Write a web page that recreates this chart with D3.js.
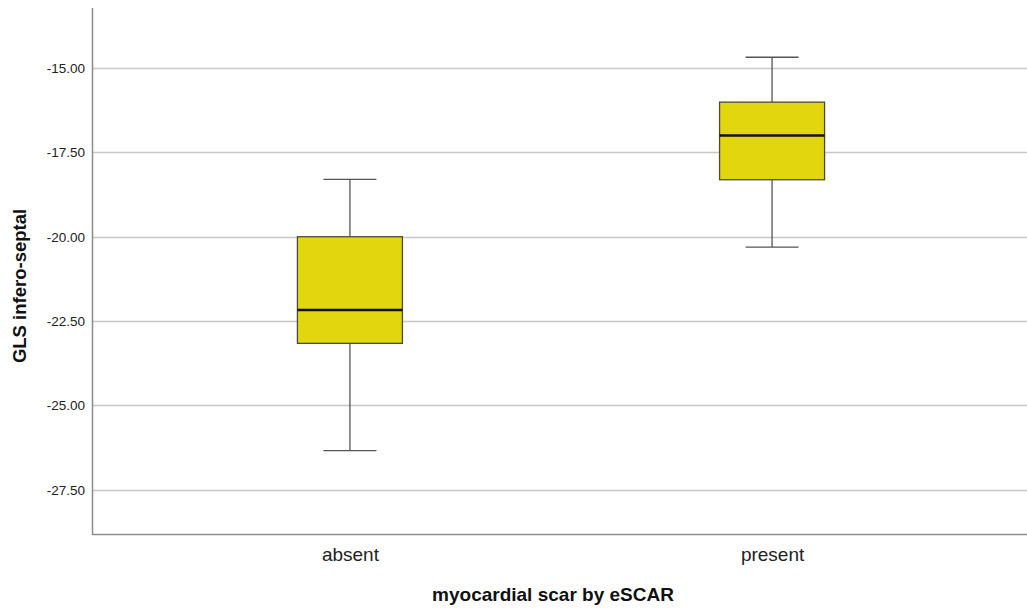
<!DOCTYPE html>
<html><head><meta charset="utf-8">
<script src="https://cdn.jsdelivr.net/npm/d3@7"></script>
<style>body{margin:0;background:#fff}svg{display:block}</style>
</head><body>
<svg id="c" width="1027" height="612"></svg>
<script>
const categories = ["absent", "present"];
const whiskerLow = [-26.34, -20.31];
const q1 = [-23.16, -18.31];
const median = [-22.17, -17.00];
const q3 = [-20.00, -16.01];
const whiskerHigh = [-18.30, -14.68];
const yTicks = [-27.5, -25, -22.5, -20, -17.5, -15];
const xTitle = "myocardial scar by eSCAR";
const yTitle = "GLS infero-septal";

const svg = d3.select("#c");
const L = 92, R = 1027, T = 8, B = 534;
const y = d3.scaleLinear().domain([-28.81, -13.22]).range([B, T]);
const x = d3.scalePoint().domain(categories).range([L, 1030]).padding(0.611);
const boxW = 105, capW = 53;
const font = "'Liberation Sans', Arial, sans-serif";
const fmt = d => d3.format(".2f")(d).replace("\u2212", "-");

// gridlines
svg.append("g").selectAll("line").data(yTicks).join("line")
  .attr("x1", L).attr("x2", R)
  .attr("y1", d => Math.round(y(d)) + 0.5).attr("y2", d => Math.round(y(d)) + 0.5)
  .attr("stroke", "#c8c8c8").attr("stroke-width", 1.3);

// y axis
const ya = svg.append("g").attr("transform", `translate(${L},0)`)
  .call(d3.axisLeft(y).tickValues(yTicks).tickFormat(fmt).tickSize(0).tickPadding(7));
ya.select(".domain").remove();
ya.selectAll("text").attr("font-family", font).attr("font-size", 13.5).attr("fill", "#222");

// x axis
const xa = svg.append("g").attr("transform", `translate(0,${B})`)
  .call(d3.axisBottom(x).tickSize(0).tickPadding(14));
xa.select(".domain").remove();
xa.selectAll("text").attr("font-family", font).attr("font-size", 19).attr("fill", "#222");

// axis lines
svg.append("line").attr("x1", L + 0.5).attr("x2", L + 0.5).attr("y1", T).attr("y2", B + 1)
  .attr("stroke", "#8c8c8c").attr("stroke-width", 1.5);
svg.append("line").attr("x1", L).attr("x2", R).attr("y1", B + 0.5).attr("y2", B + 0.5)
  .attr("stroke", "#8c8c8c").attr("stroke-width", 1.5);

// boxes
const g = svg.append("g").selectAll("g").data(categories).join("g");
g.append("line").attr("x1", d => x(d)).attr("x2", d => x(d))
  .attr("y1", (d, i) => y(whiskerHigh[i])).attr("y2", (d, i) => y(q3[i]))
  .attr("stroke", "#555").attr("stroke-width", 1.3);
g.append("line").attr("x1", d => x(d)).attr("x2", d => x(d))
  .attr("y1", (d, i) => y(q1[i])).attr("y2", (d, i) => y(whiskerLow[i]))
  .attr("stroke", "#555").attr("stroke-width", 1.3);
g.append("line").attr("x1", d => x(d) - capW / 2).attr("x2", d => x(d) + capW / 2)
  .attr("y1", (d, i) => y(whiskerHigh[i])).attr("y2", (d, i) => y(whiskerHigh[i]))
  .attr("stroke", "#555").attr("stroke-width", 1.3);
g.append("line").attr("x1", d => x(d) - capW / 2).attr("x2", d => x(d) + capW / 2)
  .attr("y1", (d, i) => y(whiskerLow[i])).attr("y2", (d, i) => y(whiskerLow[i]))
  .attr("stroke", "#555").attr("stroke-width", 1.3);
g.append("rect").attr("x", d => x(d) - boxW / 2).attr("width", boxW)
  .attr("y", (d, i) => y(q3[i])).attr("height", (d, i) => y(q1[i]) - y(q3[i]))
  .attr("fill", "#e2d70f").attr("stroke", "#4a4a3a").attr("stroke-width", 1.3);
g.append("line").attr("x1", d => x(d) - boxW / 2).attr("x2", d => x(d) + boxW / 2)
  .attr("y1", (d, i) => y(median[i])).attr("y2", (d, i) => y(median[i]))
  .attr("stroke", "#111").attr("stroke-width", 2.5);

// titles
svg.append("text").attr("x", 553).attr("y", 601).attr("text-anchor", "middle")
  .attr("font-family", font).attr("font-weight", "bold").attr("font-size", 19).attr("fill", "#111")
  .text(xTitle);
svg.append("text").attr("transform", "translate(26,286) rotate(-90)").attr("text-anchor", "middle")
  .attr("font-family", font).attr("font-weight", "bold").attr("font-size", 18.5).attr("fill", "#111")
  .text(yTitle);
</script>
</body></html>
